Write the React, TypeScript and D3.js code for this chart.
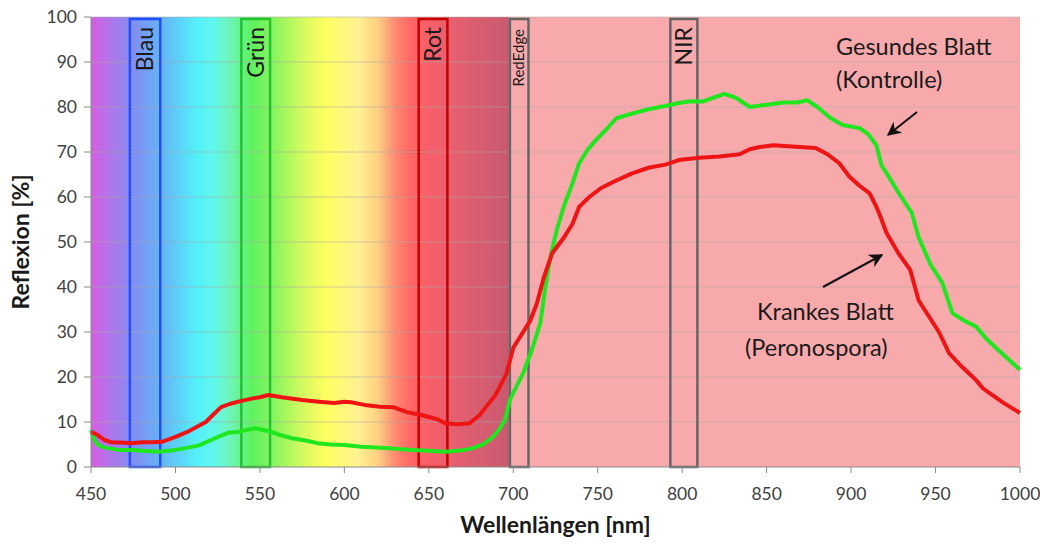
import React from 'react';
import * as d3 from 'd3';

// wavelengths [nm] and reflexion [%]
const healthyNm = [450, 452, 454, 458, 466, 475, 480, 490, 500, 506, 514, 521, 526, 531, 537, 547, 555, 562, 569, 577, 584, 592, 600, 610, 624, 640, 650, 660, 670, 676, 682, 688, 692, 695, 698, 702, 706, 711, 716, 719, 722, 726, 730, 735, 739, 744, 749, 755, 761, 770, 780, 792, 798, 805, 812, 818, 825, 832, 840, 850, 860, 868, 874, 880, 888, 895, 905, 910, 915, 918, 921, 928, 936, 940, 947, 954, 960, 967, 974, 980, 990, 1000];
const healthyVal = [8.2, 6, 4.9, 4.3, 3.8, 3.8, 3.6, 3.4, 3.8, 4.2, 4.8, 6, 6.8, 7.6, 7.8, 8.6, 8, 7.1, 6.4, 5.9, 5.3, 5, 4.9, 4.5, 4.2, 3.8, 3.6, 3.4, 3.7, 4.2, 5, 6.7, 8.5, 10.4, 14.9, 18, 21, 26, 32, 40, 46.7, 53, 58, 63, 67.5, 70.5, 72.7, 75, 77.5, 78.5, 79.5, 80.4, 80.9, 81.3, 81.2, 82, 82.9, 82, 80, 80.5, 81, 81, 81.5, 80, 77.5, 76, 75.3, 74, 71.5, 67, 65.3, 61, 56.4, 51, 45, 40.9, 34.2, 32.5, 31.2, 28.5, 25, 21.6];

const diseasedNm = [450, 454, 458, 462, 470, 474, 480, 486, 492, 500, 507, 513, 518, 522, 527, 532, 539, 545, 550, 555, 563, 575, 585, 594, 600, 604, 612, 621, 629, 637, 645, 655, 660, 667, 674, 680, 684, 689, 692, 696, 700, 705, 710, 714, 718, 723, 730, 735, 739, 745, 752, 760, 770, 780, 790, 798, 810, 822, 834, 840, 846, 854, 865, 879, 886, 893, 899, 905, 911, 915, 917, 921, 928, 935, 940, 946, 952, 958, 965, 974, 978, 982, 990, 1000];
const diseasedVal = [7.8, 7.1, 6, 5.5, 5.4, 5.3, 5.5, 5.5, 5.6, 6.7, 7.8, 9, 10, 11.5, 13.3, 14, 14.7, 15.2, 15.5, 16, 15.5, 14.9, 14.5, 14.2, 14.5, 14.4, 13.8, 13.4, 13.3, 12.2, 11.6, 10.6, 9.7, 9.5, 9.7, 11.5, 13.4, 15.8, 17.8, 20.8, 26.5, 29.5, 32.5, 36.4, 42, 47.5, 51, 54, 57.8, 60, 62, 63.5, 65.2, 66.5, 67.2, 68.2, 68.7, 69, 69.5, 70.6, 71.1, 71.5, 71.2, 70.9, 69.5, 67.5, 64.5, 62.5, 60.8, 57.8, 56, 52, 47.5, 43.8, 37, 33.5, 30, 25.3, 22.5, 19.3, 17.5, 16.4, 14.3, 12];

// spectral bands marked with boxes
const bandNames = ['Blau', 'Grün', 'Rot', 'RedEdge', 'NIR'];
const bandFrom = [473, 539, 644, 698, 793];
const bandTo = [491, 556, 661, 709, 809];
const bandColors = ['#1f4fff', '#25c22f', '#c40000', '#666666', '#666666'];

const xTicks = [450, 500, 550, 600, 650, 700, 750, 800, 850, 900, 950, 1000];
const yTicks = [0, 10, 20, 30, 40, 50, 60, 70, 80, 90, 100];

// background spectrum (wavelength -> colour)
const spectrumNm = [450, 463, 476, 490, 502, 512, 522, 532, 545, 560, 576, 590, 608, 620, 630, 640, 652, 668, 690, 697, 698, 1000];
const spectrumColor = ['#d65ee2', '#aa78ec', '#7f90f2', '#67b0f6', '#5bd2f8', '#55eefb', '#5ff8ee', '#6ef5bb', '#5ef15f', '#90f55e', '#d8fa60', '#ffff62', '#fff191', '#ffcf82', '#ff8a72', '#ff6464', '#f65f6a', '#e35f70', '#cf5b70', '#c9586e', '#f8a9ab', '#f8a9ab'];

const W = 1040;
const H = 544;
const M = { left: 91, right: 20, top: 17, bottom: 77 };

export default function App() {
  const x = d3.scaleLinear().domain([450, 1000]).range([M.left, W - M.right]);
  const y = d3.scaleLinear().domain([0, 100]).range([H - M.bottom, M.top]);

  const line = d3.line<number>()
    .x((d) => x(d[0]))
    .y((d) => y(d[1]));

  const healthy = healthyNm.map((n, i) => [n, healthyVal[i]]);
  const diseased = diseasedNm.map((n, i) => [n, diseasedVal[i]]);

  const font = 'Lato, "Open Sans", sans-serif';
  const x0 = x(450);
  const x1 = x(1000);
  const yBottom = y(0);

  return (
    <svg width={W} height={H} style={{ position: 'absolute', left: 0, top: 0, background: '#fff' }} fontFamily={font}>
      <defs>
        <linearGradient id="spec" gradientUnits="userSpaceOnUse" x1={x0} x2={x1} y1={0} y2={0}>
          {spectrumNm.map((n, i) => (
            <stop key={i} offset={(n - 450) / 550} stopColor={spectrumColor[i]} />
          ))}
        </linearGradient>
        <marker id="arr" viewBox="0 0 10 10" refX="9" refY="5" markerWidth="7" markerHeight="7" orient="auto">
          <path d="M0,0 L10,5 L0,10 L3,5 z" fill="#111" />
        </marker>
      </defs>

      {/* plot background */}
      <rect x={x0} y={y(100)} width={x1 - x0} height={yBottom - y(100)} fill="url(#spec)" />

      {/* grid */}
      {yTicks.filter((t) => t > 0).map((t) => (
        <line key={t} x1={x0} x2={x1} y1={y(t)} y2={y(t)} stroke="#a8a8a8" strokeOpacity={0.55} strokeWidth={1} />
      ))}

      {/* band boxes */}
      {bandNames.map((name, i) => {
        const bx = x(bandFrom[i]);
        const bw = x(bandTo[i]) - bx;
        const cx = bx + bw / 2;
        const small = name === 'RedEdge';
        return (
          <g key={name}>
            <rect x={bx} y={19} width={bw} height={yBottom - 19} fill="none" stroke={bandColors[i]} strokeWidth={2.5} />
            <text
              transform={`translate(${cx + (small ? 5 : 8)},${small ? 29 : 27}) rotate(-90)`}
              textAnchor="end"
              fontSize={small ? 15 : 23}
              fill="#1a1a1a"
            >
              {name}
            </text>
          </g>
        );
      })}

      {/* curves */}
      <path d={line(healthy as any) || ''} fill="none" stroke="#1fe61f" strokeWidth={4} strokeLinejoin="round" />
      <path d={line(diseased as any) || ''} fill="none" stroke="#ee1414" strokeWidth={4} strokeLinejoin="round" />

      {/* axes */}
      <line x1={x0} x2={x0} y1={y(100)} y2={yBottom} stroke="#8a8a8a" />
      <line x1={x0} x2={x1} y1={yBottom} y2={yBottom} stroke="#8a8a8a" />
      {yTicks.map((t) => (
        <g key={t}>
          <line x1={x0 - 7} x2={x0} y1={y(t)} y2={y(t)} stroke="#8a8a8a" />
          <text x={x0 - 14} y={y(t)} dy="0.36em" textAnchor="end" fontSize={17.5} fill="#404040">{t}</text>
        </g>
      ))}
      {xTicks.map((t) => (
        <g key={t}>
          <line x1={x(t)} x2={x(t)} y1={yBottom} y2={yBottom + 6} stroke="#8a8a8a" />
          <text x={x(t)} y={500} textAnchor="middle" fontSize={17.5} fill="#404040">{t}</text>
        </g>
      ))}

      <text x={(x0 + x1) / 2} y={533} textAnchor="middle" fontSize={23} fontWeight="bold" fill="#1a1a1a">Wellenlängen [nm]</text>
      <text transform={`translate(29,${(y(100) + yBottom) / 2}) rotate(-90)`} textAnchor="middle" fontSize={23} fontWeight="bold" fill="#1a1a1a">Reflexion [%]</text>

      {/* annotations */}
      <text x={836} y={55} fontSize={23.5} fill="#1a1a1a">Gesundes Blatt</text>
      <text x={836} y={88} fontSize={23.5} fill="#1a1a1a">(Kontrolle)</text>
      <line x1={917} y1={112} x2={888} y2={135} stroke="#111" strokeWidth={2} markerEnd="url(#arr)" />

      <text x={757} y={320} fontSize={23.5} fill="#1a1a1a">Krankes Blatt</text>
      <text x={745} y={356} fontSize={23.5} fill="#1a1a1a">(Peronospora)</text>
      <line x1={823} y1={287} x2={882} y2={255} stroke="#111" strokeWidth={2} markerEnd="url(#arr)" />
    </svg>
  );
}
